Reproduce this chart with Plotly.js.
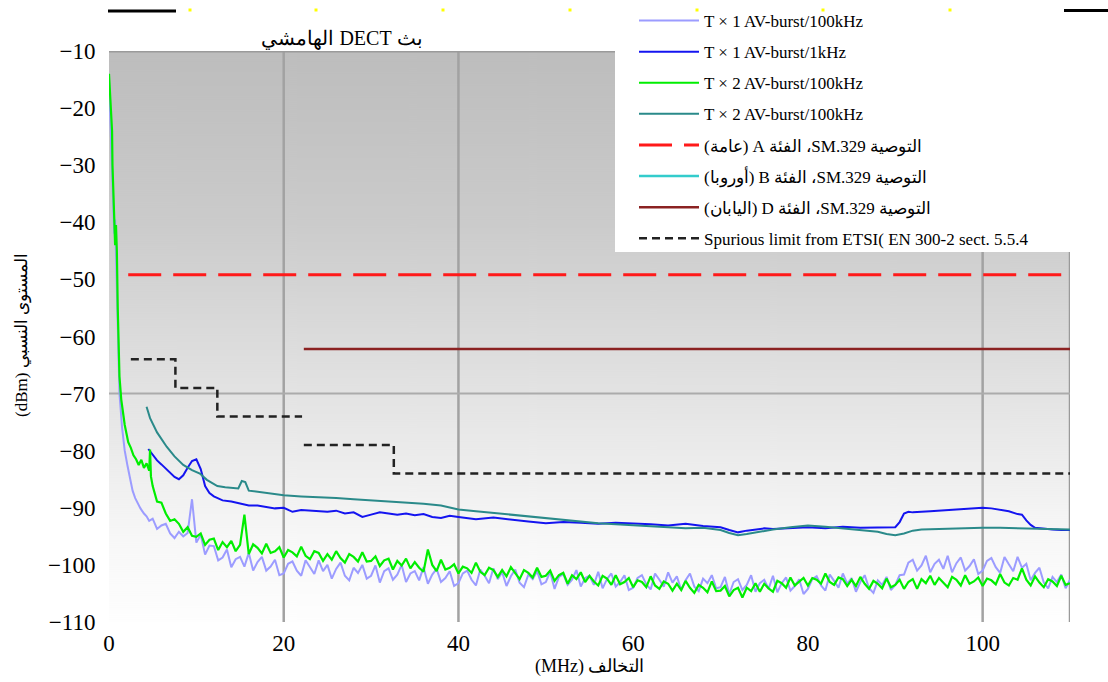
<!DOCTYPE html>
<html>
<head>
<meta charset="utf-8">
<script src="https://cdn.plot.ly/plotly-3.0.1.min.js"></script>
<style>html,body{margin:0;padding:0;background:#fff}#chart{width:1108px;height:682px}</style>
</head>
<body>
<div id="chart"></div>
<script>
// ---------- DATA ----------
const chartTitle = "بث DECT الهامشي";
const xAxisTitle = "التخالف (MHz)";
const yAxisTitle = "المستوى النسبي (dBm)";
const xTickVals = [0, 20, 40, 60, 80, 100];
const yTickVals = [-110, -100, -90, -80, -70, -60, -50, -40, -30, -20, -10];
const xGridVals = [20, 40, 100];
const yGridVals = [-70];

const seriesNames = [
  "T × 1 AV-burst/100kHz",
  "T × 1 AV-burst/1kHz",
  "T × 2 AV-burst/100kHz",
  "T × 2 AV-burst/100kHz",
  "التوصية SM.329، الفئة A (عامة)",
  "التوصية SM.329، الفئة B (أوروبا)",
  "التوصية SM.329، الفئة D (اليابان)",
  "Spurious limit from ETSI( EN 300-2 sect. 5.5.4"
];

// common sweep grid of the noisy traces (MHz)
const sweepMHz = [
  5,5.5,6,6.5,7,7.5,8,8.5,9,9.5,
  10,10.5,11,11.5,12,12.5,13,13.5,14,14.5,
  15,15.5,16,16.5,17,17.5,18,18.5,19,19.5,
  20,20.5,21,21.5,22,22.5,23,23.5,24,24.5,
  25,25.5,26,26.5,27,27.5,28,28.5,29,29.5,
  30,30.5,31,31.5,32,32.5,33,33.5,34,34.5,
  35,35.5,36,36.5,37,37.5,38,38.5,39,39.5,
  40,40.5,41,41.5,42,42.5,43,43.5,44,44.5,
  45,45.5,46,46.5,47,47.5,48,48.5,49,49.5,
  50,50.5,51,51.5,52,52.5,53,53.5,54,54.5,
  55,55.5,56,56.5,57,57.5,58,58.5,59,59.5,
  60,60.5,61,61.5,62,62.5,63,63.5,64,64.5,
  65,65.5,66,66.5,67,67.5,68,68.5,69,69.5,
  70,70.5,71,71.5,72,72.5,73,73.5,74,74.5,
  75,75.5,76,76.5,77,77.5,78,78.5,79,79.5,
  80,80.5,81,81.5,82,82.5,83,83.5,84,84.5,
  85,85.5,86,86.5,87,87.5,88,88.5,89,89.5,
  90,90.5,91,91.5,92,92.5,93,93.5,94,94.5,
  95,95.5,96,96.5,97,97.5,98,98.5,99,99.5,
  100,100.5,101,101.5,102,102.5,103,103.5,104,104.5,
  105,105.5,106,106.5,107,107.5,108,108.5,109,109.5,
  110
];

// T x 1 AV-burst/100kHz (light purple)
const purpleStartX = [0,0.2,0.4,0.6,0.7,0.8,1.0,1.2,1.5,1.8,2.1,2.4,2.7,3.0,3.3,3.6,4.0,4.3,4.6];
const purpleStartY = [-15,-25,-35,-42,-39.5,-46,-60,-70,-76,-80,-82.5,-85,-87,-88.3,-89.2,-90.1,-91,-91.5,-92.3];
const purpleSweepY = [
  -91.9,-93.7,-93.1,-92.8,-94.5,-95.3,-94.2,-95.0,-94.4,-88.5,
  -96.1,-94.7,-98.2,-96.6,-96.7,-99.2,-98.7,-97.3,-100.4,-99.0,
  -98.6,-100.3,-97.9,-101.0,-99.5,-98.6,-101.0,-100.3,-99.1,-101.8,
  -101.5,-99.8,-99.4,-101.0,-101.9,-99.2,-100.4,-101.6,-99.2,-101.1,
  -100.0,-102.4,-100.7,-99.6,-101.9,-102.7,-100.5,-101.4,-100.0,-102.4,
  -101.9,-100.1,-103.1,-101.1,-100.6,-102.6,-101.7,-100.0,-103.0,-101.5,
  -101.1,-102.7,-100.4,-103.3,-101.7,-100.7,-103.0,-102.3,-101.1,-103.7,
  -103.2,-101.5,-101.0,-102.6,-103.6,-100.8,-101.9,-103.2,-100.6,-102.5,
  -101.3,-103.7,-102.0,-100.8,-103.1,-103.9,-101.7,-102.5,-101.1,-103.4,
  -103.0,-101.2,-104.2,-102.1,-101.6,-103.5,-102.6,-100.9,-103.8,-102.3,
  -101.9,-103.5,-101.2,-104.1,-102.5,-101.5,-103.8,-103.0,-101.8,-104.4,
  -104.0,-102.3,-101.8,-103.4,-104.3,-101.5,-102.6,-103.8,-101.3,-103.1,
  -102.0,-104.4,-102.7,-101.5,-103.8,-104.6,-102.4,-103.2,-101.8,-104.1,
  -103.9,-102.1,-105.1,-103.0,-102.5,-104.4,-103.5,-101.8,-104.7,-103.2,
  -102.6,-104.2,-101.9,-104.8,-103.2,-102.2,-104.5,-103.7,-102.5,-105.1,
  -104.2,-102.5,-102.0,-103.6,-104.5,-101.7,-102.8,-104.0,-101.5,-103.3,
  -102.3,-104.7,-103.0,-101.8,-104.1,-104.9,-102.7,-103.5,-102.1,-104.4,
  -103.5,-101.8,-101.7,-99.6,-99.1,-101.0,-100.1,-98.4,-101.3,-99.8,
  -99.1,-100.7,-98.4,-101.3,-99.7,-98.7,-101.0,-100.2,-99.0,-101.6,
  -101.0,-99.3,-98.8,-100.4,-101.4,-98.6,-99.9,-101.1,-98.6,-100.5,
  -99.8,-102.7,-101.4,-100.5,-103.1,-104.1,-102.1,-103.0,-101.7,-104.1,
  -102.6
];

// T x 1 AV-burst/1kHz (blue)
const blueX = [4.5,5,5.5,6,6.5,7,7.5,8,8.5,9,9.5,10,10.5,11,11.5,12,13,14,15,16,
  17,18,19,20,21,22,23,24,25,26,27,28,29,30,31,32,33,34,35,36,
  37,38,39,40,42,44,46,48,50,52,54,56,58,60,62,64,66,68,70,71,
  72,73,74,75,76,78,80,82,84,86,88,90,90.5,91,91.5,92,94,96,98,100,
  101,102,103,104,104.5,105,105.5,106,107,108,109,110];
const blueY = [-79.7,-80.8,-81.7,-82.4,-83.1,-83.8,-84.6,-85.0,-84.3,-83.0,-81.8,-81.5,-83.2,-86.2,-87.4,-88.0,-88.7,-88.9,-89.3,-89.6,
  -89.6,-89.9,-90.1,-90.0,-90.7,-90.4,-90.5,-90.6,-90.7,-90.5,-91.0,-90.8,-91.6,-91.2,-90.8,-91.0,-91.2,-91.0,-91.3,-91.1,
  -91.6,-91.8,-91.4,-91.6,-92.0,-91.7,-92.1,-92.4,-92.7,-92.5,-92.6,-92.8,-92.6,-92.7,-92.9,-93.1,-92.8,-93.2,-93.4,-93.9,
  -94.3,-94.0,-93.8,-93.6,-93.7,-93.5,-93.4,-93.6,-93.3,-93.5,-93.5,-93.4,-92.5,-91.0,-90.7,-90.8,-90.6,-90.4,-90.3,-90.0,
  -90.1,-90.4,-90.6,-91.1,-91.2,-92.2,-93.0,-93.5,-93.7,-93.8,-93.9,-93.9];

// T x 2 AV-burst/100kHz (green)
const greenStartX = [0,0.15,0.3,0.35,0.4,0.5,0.6,0.7,0.8,0.9,1.0,1.1,1.2,1.4,1.6,1.8,2.0,2.2,2.5,2.8,3.1,3.4,3.7,4.0,4.3,4.6,4.7,4.8];
const greenStartY = [-14,-18,-21.5,-24,-30,-36,-41,-44,-40.5,-45,-55,-62,-67,-71,-73.5,-75.5,-77,-78.5,-79.5,-80.8,-81.5,-82.5,-81.6,-83,-82.2,-83.5,-79.8,-84.5];
const greenSweepY = [
  -86.2,-88.9,-89.1,-91.0,-92.3,-92.0,-92.8,-94.2,-93.4,-94.9,
  -95.1,-94.5,-96.5,-95.6,-95.4,-97.4,-96.0,-96.9,-95.8,-97.6,
  -96.5,-91.2,-98.1,-96.4,-97.0,-98.0,-96.3,-97.9,-97.6,-96.9,
  -98.7,-97.4,-97.8,-98.5,-96.8,-98.4,-99.0,-97.6,-97.9,-99.3,
  -98.1,-99.1,-97.6,-98.8,-99.6,-98.1,-98.6,-99.4,-97.8,-99.4,
  -99.3,-98.5,-100.2,-99.2,-98.9,-100.8,-99.3,-100.1,-98.9,-100.6,
  -99.5,-100.5,-101.2,-97.3,-100.0,-101.1,-99.1,-100.8,-100.5,-99.9,
  -101.5,-100.3,-100.6,-101.4,-99.6,-101.2,-101.8,-100.5,-100.9,-102.1,
  -100.9,-102.0,-100.4,-101.5,-102.5,-100.9,-101.4,-102.2,-100.5,-102.1,
  -101.9,-101.0,-102.8,-101.8,-101.4,-103.3,-101.8,-102.5,-101.3,-103.0,
  -101.9,-102.9,-103.6,-101.9,-102.4,-103.5,-101.8,-103.4,-103.0,-102.3,
  -103.9,-102.7,-103.0,-103.9,-102.0,-103.6,-104.2,-102.9,-103.3,-104.5,
  -103.3,-104.4,-102.8,-104.0,-104.9,-103.5,-104.0,-104.8,-102.9,-104.6,
  -104.5,-103.7,-105.5,-104.4,-104.0,-105.7,-104.0,-104.6,-103.2,-104.7,
  -103.3,-104.1,-104.7,-102.8,-103.2,-104.0,-102.2,-103.6,-103.0,-102.3,
  -103.6,-102.3,-102.6,-103.3,-101.5,-103.0,-103.5,-102.2,-102.5,-103.7,
  -102.6,-103.7,-102.1,-103.3,-104.2,-102.8,-103.3,-104.1,-102.4,-103.9,
  -103.5,-102.6,-104.2,-103.0,-102.5,-104.2,-102.5,-103.2,-101.9,-103.5,
  -102.3,-103.2,-103.9,-102.1,-102.6,-103.6,-101.8,-103.3,-102.9,-102.2,
  -103.7,-102.4,-102.7,-103.4,-101.6,-103.1,-103.6,-102.3,-102.6,-100.6,
  -102.6,-103.6,-102.0,-103.1,-103.9,-102.5,-102.9,-103.7,-101.9,-103.5,
  -103.2
];

// T x 2 AV-burst/100kHz (teal)
const tealX = [4.3,4.7,5.5,6.6,7.5,8.5,9.5,10.4,11.2,12.4,13.3,14.2,14.8,15.2,15.6,16,17,18,19,20,
  22,24,26,28,30,32,34,36,38,40,42,44,46,48,50,52,54,56,58,60,
  62,64,66,68,70,71,72,73,74,76,78,80,82,84,86,88,89,90,91,92,
  93,95,97,100,102,104,106,108,110];
const tealY = [-72.3,-74.3,-76.8,-79.3,-81.0,-82.5,-83.4,-84.0,-85.1,-86.2,-86.4,-86.5,-86.6,-85.3,-85.5,-87.0,-87.2,-87.4,-87.6,-87.8,
  -88.0,-88.1,-88.3,-88.5,-88.7,-88.8,-89.0,-89.3,-89.6,-90.3,-90.6,-90.9,-91.2,-91.6,-91.8,-92.2,-92.5,-92.7,-92.9,-93.1,
  -93.2,-93.4,-93.6,-93.5,-93.9,-94.4,-94.8,-94.6,-94.3,-93.8,-93.4,-93.1,-93.3,-93.6,-93.8,-94.2,-94.6,-94.8,-94.5,-94.0,
  -93.8,-93.7,-93.6,-93.5,-93.5,-93.6,-93.6,-93.7,-93.8];

// limit lines
const limitAX = [2.2, 110];       const limitAY = [-49.2, -49.2];
const limitBX = [null];           const limitBY = [null];
const limitDX = [22.3, 110];      const limitDY = [-62.2, -62.2];
const etsiX = [2.5, 7.6, 7.6, 12.4, 12.4, 22.1, null, 22.3, 32.6, 32.6, 110];
const etsiY = [-64, -64, -69, -69, -74, -74, null, -79, -79, -84, -84];

// ---------- STYLE / LAYOUT ----------
const W = 1108, H = 682;
const M = {l: 109, r: 38, t: 51, b: 60, autoexpand: false};
const PW = W - M.l - M.r, PH = H - M.t - M.b;
const px2x = p => (p - M.l) / PW;
const px2y = p => (H - M.b - p) / PH;
const rtl = s => "\u202B" + s + "\u202C";
const serif = "Liberation Serif";

// gradient background for the plot area
const cv = document.createElement('canvas');
cv.width = 8; cv.height = PH;
const cx = cv.getContext('2d');
const gr = cx.createLinearGradient(0, 0, 0, PH);
gr.addColorStop(0, '#bdbdbd');
gr.addColorStop(0.3, '#cbcbcb');
gr.addColorStop(0.6, '#e3e3e3');
gr.addColorStop(0.85, '#f7f7f7');
gr.addColorStop(1, '#fefefe');
cx.fillStyle = gr; cx.fillRect(0, 0, 8, PH);
const bgURL = cv.toDataURL('image/png');

const traces = [
  {x: purpleStartX.concat(sweepMHz), y: purpleStartY.concat(purpleSweepY), name: seriesNames[0],
   line: {color: '#9c9cff', width: 2}},
  {x: blueX, y: blueY, name: seriesNames[1], line: {color: '#1414f0', width: 2}},
  {x: greenStartX.concat(sweepMHz), y: greenStartY.concat(greenSweepY), name: seriesNames[2],
   line: {color: '#00ee00', width: 2.2}},
  {x: tealX, y: tealY, name: seriesNames[3], line: {color: '#2a8a8a', width: 2}},
  {x: limitAX, y: limitAY, name: rtl(seriesNames[4]), line: {color: '#ff1a1a', width: 3, dash: '33px,12px'}},
  {x: limitBX, y: limitBY, name: rtl(seriesNames[5]), line: {color: '#33cccc', width: 2.5}},
  {x: limitDX, y: limitDY, name: rtl(seriesNames[6]), line: {color: '#8b2222', width: 2.5}},
  {x: etsiX, y: etsiY, name: seriesNames[7], line: {color: '#222', width: 2.5, dash: '8px,5px'}}
].map((t, i) => Object.assign(t, {type: 'scatter', mode: 'lines', legendgroup: 'g' + i, hoverinfo: 'skip'}));

const shapes = [];
xGridVals.forEach(v => shapes.push({type: 'line', layer: 'below', xref: 'x', yref: 'paper', x0: v, x1: v, y0: 0, y1: 1,
  line: {color: '#a2a2a2', width: 2.5}}));
shapes.push({type: 'line', layer: 'below', xref: 'x', yref: 'paper', x0: 110, x1: 110, y0: 0, y1: 1,
  line: {color: '#9a9a9a', width: 2.5}});
yGridVals.forEach(v => shapes.push({type: 'line', layer: 'below', xref: 'paper', yref: 'y', x0: 0, x1: 1, y0: v, y1: v,
  line: {color: '#ababab', width: 2}}));
shapes.push({type: 'line', layer: 'below', xref: 'paper', yref: 'y', x0: 0, x1: 1, y0: -10, y1: -10,
  line: {color: '#9a9a9a', width: 3}});
// white legend panel over the top-right of the plot
shapes.push({type: 'rect', layer: 'below', xref: 'paper', yref: 'paper', x0: px2x(615), x1: 1.02, y0: px2y(252), y1: 1.05,
  fillcolor: '#ffffff', line: {width: 0}});
// decorative marks at the top edge of the figure
shapes.push({type: 'line', xref: 'paper', yref: 'paper', x0: px2x(108), x1: px2x(176), y0: px2y(11), y1: px2y(11),
  line: {color: '#000', width: 3}});
shapes.push({type: 'line', xref: 'paper', yref: 'paper', x0: px2x(1064), x1: px2x(1108), y0: px2y(10.5), y1: px2y(10.5),
  line: {color: '#000', width: 3}});
[190, 316, 443, 570, 697, 823, 950].forEach(p => shapes.push({type: 'rect', xref: 'paper', yref: 'paper',
  x0: px2x(p - 1.5), x1: px2x(p + 1.5), y0: px2y(11.5), y1: px2y(8.5), fillcolor: '#ffff00', line: {width: 0}}));

const layout = {
  width: W, height: H,
  margin: M,
  paper_bgcolor: '#ffffff',
  plot_bgcolor: 'rgba(0,0,0,0)',
  showlegend: true,
  title: {text: rtl(chartTitle), font: {family: serif, size: 20, color: '#000'},
    xref: 'paper', x: px2x(342), xanchor: 'center', yref: 'container', y: 1 - 38 / H, yanchor: 'middle', automargin: false},
  xaxis: {range: [0, 110], tickvals: xTickVals, ticktext: xTickVals.map(String), showgrid: false, zeroline: false,
    showline: false, ticks: 'outside', ticklen: 0, tickcolor: 'rgba(0,0,0,0)', automargin: false,
    tickfont: {family: serif, size: 23, color: '#000'}, fixedrange: true},
  yaxis: {range: [-110, -10], tickvals: yTickVals, showgrid: false, zeroline: false, showline: false,
    ticks: 'outside', ticklen: 8, tickcolor: 'rgba(0,0,0,0)', automargin: false,
    tickfont: {family: serif, size: 23, color: '#000'}, fixedrange: true},
  images: [{source: bgURL, xref: 'paper', yref: 'paper', x: 0, y: 1, sizex: 1, sizey: 1,
    sizing: 'stretch', xanchor: 'left', yanchor: 'top', layer: 'below'}],
  shapes: shapes,
  annotations: [
    {text: rtl(yAxisTitle), xref: 'paper', yref: 'paper', x: px2x(22), y: px2y(335), textangle: -90,
     showarrow: false, font: {family: serif, size: 17, color: '#000'}, xanchor: 'center', yanchor: 'middle'},
    {text: rtl(xAxisTitle), xref: 'paper', yref: 'paper', x: px2x(590), y: px2y(666),
     showarrow: false, font: {family: serif, size: 18, color: '#000'}, xanchor: 'center', yanchor: 'middle'}
  ],
  legend: {x: px2x(634), xanchor: 'left', y: px2y(3), yanchor: 'top', bgcolor: 'rgba(255,255,255,0)', borderwidth: 0,
    font: {family: serif, size: 17, color: '#000'}, traceorder: 'grouped', tracegroupgap: 6, itemwidth: 60},
  hovermode: false
};

Plotly.newPlot('chart', traces, layout, {displayModeBar: false, staticPlot: true});
</script>
</body>
</html>
